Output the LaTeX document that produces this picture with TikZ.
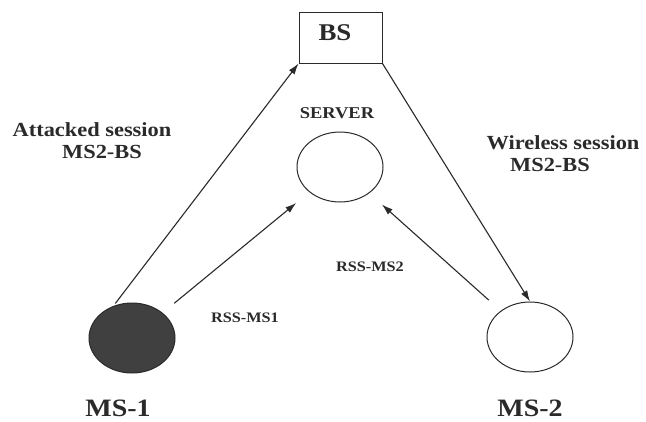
\documentclass[tikz,border=0pt]{standalone}
\usepackage{fontspec}
\usetikzlibrary{shapes.geometric,arrows.meta}
\newfontfamily\labfont[FakeStretch=1.12]{Liberation Serif}
\definecolor{ink}{HTML}{2A2A2A}
\definecolor{mobfill}{HTML}{404040}
\begin{document}
\begin{tikzpicture}[x=1pt,y=-1pt,
  lbl/.style={text=ink,inner sep=0pt,font=\labfont\bfseries\fontsize{#1}{#1}\selectfont},
  station/.style={ellipse,draw=ink,line width=1pt,minimum width=86pt,minimum height=70pt,inner sep=0pt},
  link/.style={draw=ink,line width=1.1pt,-{Latex[length=11pt,width=7pt]}}]
  \useasboundingbox[fill=white] (0,0) rectangle (646,421);

  % base station, server and the two mobiles
  \node[draw=ink,line width=1pt,minimum width=83pt,minimum height=51pt,inner sep=0pt] (bs) at (340.5,37.5) {};
  \node[lbl=24] (bslbl) at (335,33) {BS};
  \node[station] (server) at (340,167) {};
  \node[lbl=16.5] (serverlbl) at (337,113) {SERVER};
  \node[station,fill=mobfill] (ms1) at (132,338) {};
  \node[station] (ms2) at (530,337) {};
  \node[lbl=25] (ms1lbl) at (118,408) {MS-1};
  \node[lbl=25] (ms2lbl) at (530,408) {MS-2};

  % session labels
  \node[lbl=20] (att1) at (92,130) {Attacked session};
  \node[lbl=20] (att2) at (102,152) {MS2-BS};
  \node[lbl=20] (wl1) at (563,143) {Wireless session};
  \node[lbl=20] (wl2) at (550,165) {MS2-BS};
  \node[lbl=14.5] (rss1) at (245,318) {RSS-MS1};
  \node[lbl=14.5] (rss2) at (370,267) {RSS-MS2};

  % connections
  \draw[link,shorten <=3pt] (ms1.120) -- (bs.south west);
  \draw[link] (bs.south east) -- (ms2.north);
  \draw[link,shorten <=15pt,shorten >=17pt] (ms1) -- (server);
  \draw[link,shorten <=16pt,shorten >=17pt] (ms2) -- (server);
\end{tikzpicture}
\end{document}
